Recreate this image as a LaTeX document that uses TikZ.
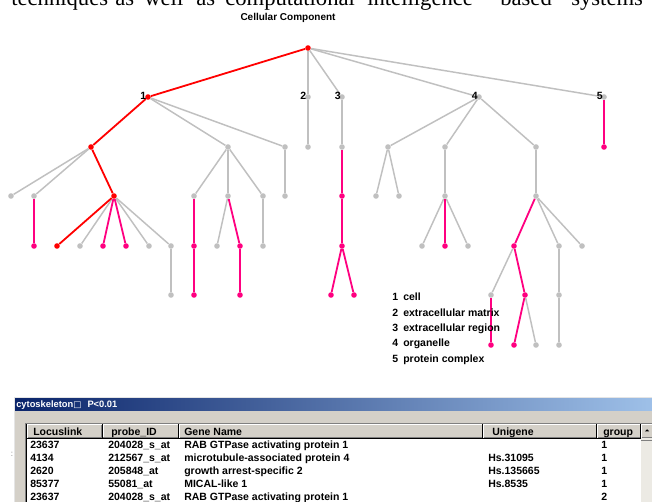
\documentclass[tikz,border=0pt]{standalone}
\usepackage{fontspec}
\usetikzlibrary{shapes.geometric}
\setmainfont{Liberation Sans}
\newfontfamily\serifface{Liberation Serif}
\newfontfamily\symface{DejaVu Sans}
\definecolor{edgegray}{RGB}{192,192,192}
\definecolor{hotpink}{RGB}{255,0,128}
\definecolor{pathred}{RGB}{255,0,0}
\definecolor{winface}{RGB}{212,208,200}
\definecolor{winshadow}{RGB}{128,128,128}
\definecolor{titledark}{RGB}{10,36,106}
\definecolor{titlelight}{RGB}{158,192,232}
\definecolor{trackcol}{RGB}{236,234,228}
\begin{document}
\begin{tikzpicture}[x=0.75pt,y=-0.75pt,
  dot/.style={circle,inner sep=0pt,minimum size=4.2pt,fill=edgegray},
  pdot/.style={dot,fill=hotpink},
  rdot/.style={dot,fill=pathred},
  gedge/.style={draw=edgegray,line width=1.1pt},
  pedge/.style={draw=hotpink,line width=1.35pt},
  redge/.style={draw=pathred,line width=1.35pt},
  uitext/.style={font=\bfseries\fontsize{7.875}{9}\selectfont,inner sep=0pt,anchor=base west},
  numtext/.style={uitext,anchor=base east},
  tabtext/.style={uitext},
  headtext/.style={uitext},
  capword/.style={anchor=base west,inner sep=0pt,font=\serifface\fontsize{17}{19}\selectfont}]
\useasboundingbox (0,0) rectangle (652,502);
\clip (0,0) rectangle (652,502);
\fill[white] (0,0) rectangle (652,502);

% cut-off (justified) caption line at the top edge
\foreach \w/\xx [count=\k] in {techniques/11,as/115,well/144,as/196,computational/225,intelligence/367,based/500,systems/571}
  \node[capword] (tw\k) at (\xx,5.5) {\w};

% title
\node[uitext,anchor=base,font=\bfseries\fontsize{7.5}{9}\selectfont] (title) at (288,20.7) {Cellular Component};

% tree nodes
\node[rdot] (r) at (308,48) {};
\node[rdot] (a1) at (148,97) {};
\node[dot] (a2) at (308,97) {};
\node[dot] (a3) at (342,97) {};
\node[dot] (a4) at (479,97) {};
\node[dot] (a5) at (604,97) {};
\node[rdot] (b1) at (91,147) {};
\node[dot] (b2) at (228,147) {};
\node[dot] (b3) at (285,147) {};
\node[dot] (b4) at (308,147) {};
\node[dot] (b5) at (342,147) {};
\node[dot] (b6) at (388,147) {};
\node[dot] (b7) at (445,147) {};
\node[dot] (b8) at (536,147) {};
\node[pdot] (b9) at (604,147) {};
\node[dot] (c1) at (11,196) {};
\node[dot] (c2) at (34,196) {};
\node[rdot] (c3) at (114,196) {};
\node[dot] (c4) at (194,196) {};
\node[dot] (c5) at (228,196) {};
\node[dot] (c6) at (263,196) {};
\node[dot] (c7) at (285,196) {};
\node[pdot] (c8) at (342,196) {};
\node[dot] (c9) at (376,196) {};
\node[dot] (c10) at (399,196) {};
\node[dot] (c11) at (445,196) {};
\node[dot] (c12) at (536,196) {};
\node[pdot] (d1) at (34,246) {};
\node[rdot] (d2) at (57,246) {};
\node[dot] (d3) at (80,246) {};
\node[pdot] (d4) at (103,246) {};
\node[pdot] (d5) at (126,246) {};
\node[dot] (d6) at (149,246) {};
\node[dot] (d7) at (171,246) {};
\node[pdot] (d8) at (194,246) {};
\node[dot] (d9) at (217,246) {};
\node[pdot] (d10) at (240,246) {};
\node[dot] (d11) at (263,246) {};
\node[pdot] (d12) at (342,246) {};
\node[dot] (d13) at (422,246) {};
\node[pdot] (d14) at (445,246) {};
\node[dot] (d15) at (468,246) {};
\node[pdot] (d16) at (514,246) {};
\node[dot] (d17) at (559,246) {};
\node[dot] (d18) at (582,246) {};
\node[dot] (e1) at (171,295) {};
\node[pdot] (e2) at (194,295) {};
\node[pdot] (e3) at (240,295) {};
\node[pdot] (e4) at (331,295) {};
\node[pdot] (e5) at (354,295) {};
\node[dot] (e6) at (491,295) {};
\node[pdot] (e7) at (525,295) {};
\node[dot] (e8) at (559,295) {};
\node[pdot] (f1) at (491,345) {};
\node[pdot] (f2) at (514,345) {};
\node[dot] (f3) at (536,345) {};
\node[dot] (f4) at (559,345) {};

% edges
\foreach \u/\v in {r/a2,r/a3,r/a4,r/a5,a1/b2,a1/b3,a2/b4,a3/b5,a4/b6,a4/b7,a4/b8,
  b1/c1,b1/c2,b2/c4,b2/c5,b2/c6,b3/c7,b6/c9,b6/c10,b7/c11,b8/c12,
  c3/d3,c3/d6,c3/d7,c5/d9,c6/d11,c11/d13,c11/d15,c12/d17,c12/d18,
  d7/e1,d16/e6,d17/e8,e7/f3,e8/f4}
  \draw[gedge] (\u) -- (\v);
\foreach \u/\v in {a5/b9,b5/c8,c2/d1,c3/d4,c3/d5,c4/d8,c5/d10,c8/d12,c11/d14,c12/d16,
  d8/e2,d10/e3,d12/e4,d12/e5,d16/e7,e6/f1,e7/f2}
  \draw[pedge] (\u) -- (\v);
\foreach \u/\v in {r/a1,a1/b1,b1/c3,c3/d2}
  \draw[redge] (\u) -- (\v);

% level-1 labels
\node[numtext] (lab1) at (146.5,100) {1};
\node[numtext] (lab2) at (306.5,100) {2};
\node[numtext] (lab3) at (341,100) {3};
\node[numtext] (lab4) at (478,100) {4};
\node[numtext] (lab5) at (603,100) {5};

% legend
\foreach \n/\t/\yy in {1/cell/300.8,2/extracellular matrix/316.1,3/extracellular region/331.4,4/organelle/346.7,5/protein complex/362}{
  \node[uitext] (legn\n) at (392,\yy) {\n};
  \node[uitext] (legt\n) at (403,\yy) {\t};
}

% window
\fill[winface] (14,397) rectangle (652,502);
\draw[white!90!black,line width=0.75pt] (14.5,502) -- (14.5,397.5) -- (652,397.5);
\shade[left color=titledark,right color=titlelight] (15,398.3) rectangle (652,410.7);
\node[uitext,text=white,font=\bfseries\fontsize{7}{8}\selectfont] (wintitle) at (16,407.9) {cytoskeleton{\symface\fontsize{6.5}{8}\selectfont □}\hspace{4.5pt}P<0.01};

% list view
\fill[white] (25,422.7) rectangle (641,502);
\draw[winshadow,line width=0.75pt] (25.5,502) -- (25.5,423.2) -- (652,423.2);
\draw[black,line width=0.75pt] (26.3,502) -- (26.3,424) -- (641,424);
% header
\fill[winface] (27,424.5) rectangle (641,438.3);
\foreach \xa/\xb in {27/102.7,102.7/179,179/483,483/597,597/641}{
  \draw[white,line width=0.75pt] (\xa+0.5,438) -- (\xa+0.5,424.9) -- (\xb-1,424.9);
  \draw[winshadow,line width=0.75pt] (\xb-1,424.9) -- (\xb-1,437.5) -- (\xa+0.5,437.5);
  \draw[black,line width=0.75pt] (\xb-0.2,424.5) -- (\xb-0.2,438.3);
}
\draw[black,line width=0.6pt] (27,438.3) -- (641,438.3);
\node[headtext] (h1) at (33,435.7) {Locuslink};
\node[headtext] (h2) at (111,435.7) {probe\_ID};
\node[headtext] (h3) at (184,435.7) {Gene Name};
\node[headtext] (h4) at (492,435.7) {Unigene};
\node[headtext] (h5) at (603,435.7) {group};

% scrollbar
\fill[trackcol] (641,424) rectangle (652,502);
\fill[winface] (641,424.5) rectangle (652,438.3);
\draw[white,line width=0.75pt] (641.5,438) -- (641.5,424.9) -- (652,424.9);
\draw[winshadow,line width=0.75pt] (641.5,437.8) -- (652,437.8);
\node[isosceles triangle,isosceles triangle apex angle=90,shape border rotate=90,fill=black,inner sep=0pt,minimum height=1.6pt,minimum width=3.2pt] (uparrow) at (647,430.5) {};
\draw[winshadow,line width=0.5pt] (641,440.5) -- (652,440.5);

% rows
\foreach \ll/\pp/\gg/\uu/\gr [count=\i] in {
  23637/204028\_s\_at/RAB GTPase activating protein 1//1,
  4134/212567\_s\_at/microtubule-associated protein 4/Hs.31095/1,
  2620/205848\_at/growth arrest-specific 2/Hs.135665/1,
  85377/55081\_at/MICAL-like 1/Hs.8535/1,
  23637/204028\_s\_at/RAB GTPase activating protein 1//2}{
  \pgfmathsetmacro{\yy}{448.7+13*(\i-1)}
  \node[tabtext] (ll\i) at (30,\yy) {\ll};
  \node[tabtext] (pp\i) at (108,\yy) {\pp};
  \node[tabtext] (gg\i) at (184,\yy) {\gg};
  \node[tabtext] (uu\i) at (488,\yy) {\uu};
  \node[tabtext] (gr\i) at (601,\yy) {\gr};
}
\node[inner sep=0pt,text=winshadow,font=\fontsize{6}{7}\selectfont] (sidemark) at (12,454) {:};
\end{tikzpicture}
\end{document}
